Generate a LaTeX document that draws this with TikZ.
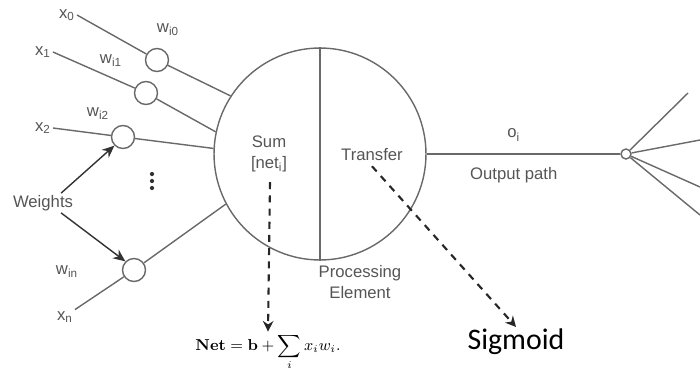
\documentclass[tikz,border=0pt]{standalone}
\usepackage{amsmath}
\usepackage[no-math]{fontspec}
\setmainfont{Liberation Sans}
\newfontfamily\sigfont{Carlito}
\usetikzlibrary{positioning,arrows.meta}
\definecolor{linegray}{RGB}{105,105,105}
\definecolor{textgray}{RGB}{85,85,85}

\begin{document}
\begin{tikzpicture}[x=0.02cm, y=-0.02cm,
  lbl/.style={text=textgray, font=\fontsize{9.5}{11}\selectfont, inner sep=1pt},
  wnode/.style={circle, draw=linegray, thick, fill=white, minimum size=0.46cm, inner sep=0pt},
  link/.style={linegray, thick},
  wvec/.style={-{Stealth[length=7pt,width=6pt]}, thick, black!80},
  dvec/.style={-{Stealth[length=6pt,width=6pt]}, very thick, black!85, dash pattern=on 4pt off 3.5pt}]
  \useasboundingbox (0,0) rectangle (700,369);
  % processing element, split in two halves
  \node[circle, draw=linegray, thick, minimum size=4.24cm, inner sep=0pt] (pe) at (320,154) {};
  \draw[link] (pe.north) -- (pe.south);
  \node[lbl, align=center] (sum) at (269,154) {Sum\\[1pt][net\textsubscript{i}]};
  \node[lbl] (transfer) at (372,155) {Transfer};
  \node[lbl, align=center] (procel) at (360,282) {Processing\\[1pt]Element};
  % inputs and weights
  \node[lbl] (x0) at (67,15) {x\textsubscript{0}};
  \node[lbl] (x1) at (43,52) {x\textsubscript{1}};
  \node[lbl] (x2) at (43,128) {x\textsubscript{2}};
  \node[lbl] (xn) at (65,317) {x\textsubscript{n}};
  \node[wnode] (w0) at (157,60) {};
  \node[wnode] (w1) at (146,93) {};
  \node[wnode] (w2) at (123,137) {};
  \node[wnode] (wn) at (134,270) {};
  \node[lbl] (lw0) at (168,30) {w\textsubscript{i0}};
  \node[lbl] (lw1) at (111,61) {w\textsubscript{i1}};
  \node[lbl] (lw2) at (98,114) {w\textsubscript{i2}};
  \node[lbl] (lwn) at (67,272) {w\textsubscript{in}};
  % vertical dots between w2 and wn
  \foreach \dy in {-7,0,7}
    \fill[black!80] (152,181+\dy) circle (1.2pt);
  \draw[link] (x0.east) -- (w0) -- (pe.147);
  \draw[link] (x1.east) -- (w1) -- (pe.168);
  \draw[link] (x2.east) -- (w2) -- (pe.177);
  \draw[link] (xn.north east) -- (wn) -- (pe.208);
  % weights pointers
  \node[lbl] (weights) at (43,203) {Weights};
  \draw[wvec] (weights.north east) ++(-14,0) -- (w2.south west);
  \draw[wvec] (weights.south east) ++(-14,0) -- (wn.north west);
  % output path and fan out
  \node[circle, draw=linegray, thick, fill=white, minimum size=0.2cm, inner sep=0pt] (fork) at (626,154) {};
  \draw[link] (pe.east) -- (fork)
    node[lbl, pos=0.45, above=6pt] (oi) {o\textsubscript{i}}
    node[lbl, pos=0.45, below=6pt] (outpath) {Output path};
  \coordinate (f1) at (688,93);
  \coordinate (f2) at (700,140);
  \coordinate (f3) at (700,187);
  \coordinate (f4) at (700,215);
  \foreach \f in {f1,f2,f3,f4}
    \draw[link] (fork) -- (\f);
  % formulas
  \node[inner sep=1pt, font=\small] (net) at (268,352)
    {$\mathbf{Net}=\mathbf{b}+\displaystyle\sum_i x_i w_i.$};
  \node[font=\fontsize{17}{19}\sigfont, inner sep=1pt] (sigmoid) at (516,342) {Sigmoid};
  \draw[dvec] (sum.south) ++(1,8) -- (net.north);
  \draw[dvec] (transfer.south) ++(0,3) -- (sigmoid.north);
\end{tikzpicture}
\end{document}
